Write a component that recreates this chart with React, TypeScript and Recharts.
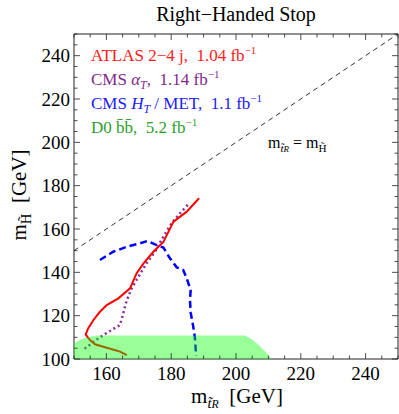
import React from "react";
import { ComposedChart, Line, Area, XAxis, YAxis } from "recharts";

// ATLAS 2-4 jets (red solid), traced top to bottom
const atlasX = [188.6, 184.8, 180.7, 177.6, 174.5, 171.4, 169.3, 167.3, 163.7, 160.1, 158.0, 156.0, 154.4, 153.6, 154.9, 156.5, 160.1, 164.2, 166.3];
const atlasY = [174.2, 168.0, 163.4, 154.0, 149.5, 144.0, 139.5, 132.6, 128.0, 124.9, 121.8, 118.0, 114.2, 111.3, 108.8, 106.8, 105.2, 103.4, 101.8];

// CMS alpha_T (purple dotted)
const alphaX = [185.1, 182.7, 180.1, 177.6, 175.0, 172.4, 169.9, 167.8, 166.3, 165.2, 164.2, 160.1, 156.5, 152.9];
const alphaY = [171.1, 167.2, 162.6, 156.5, 149.5, 144.2, 138.0, 132.6, 127.2, 121.1, 115.7, 112.0, 108.5, 104.3];

// CMS H_T / MET (blue dashed)
const htX = [158.0, 162.1, 166.3, 170.4, 172.7, 175.0, 177.6, 179.6, 181.7, 183.7, 184.8, 186.0, 185.8, 186.0, 186.8, 187.3, 187.7];
const htY = [145.7, 149.5, 151.8, 153.4, 154.5, 152.9, 151.4, 146.5, 142.3, 141.1, 137.2, 131.8, 127.0, 121.5, 115.0, 110.0, 101.5];

// D0 bb excluded region (green fill, drawn over the curves)
const d0X = [150, 151.5, 153, 155, 157, 202.8, 205, 207, 209, 211];
const d0Y = [107, 108.5, 109.6, 110.3, 110.8, 110.8, 109, 106.5, 103.5, 100];

// m_stop = m_higgsino diagonal
const diagX = [150, 250];
const diagY = [150, 250];

const xTicks = [150, 155, 160, 165, 170, 175, 180, 185, 190, 195, 200, 205, 210, 215, 220, 225, 230, 235, 240, 245, 250];
const xLabels = [160, 180, 200, 220, 240];
const yTicks = [100, 105, 110, 115, 120, 125, 130, 135, 140, 145, 150, 155, 160, 165, 170, 175, 180, 185, 190, 195, 200, 205, 210, 215, 220, 225, 230, 235, 240, 245, 250];
const yLabels = [100, 120, 140, 160, 180, 200, 220, 240];

const FONT = "Liberation Serif, serif";
const FRAME = "#222";

const pts = (xs: number[], ys: number[]) => xs.map((x, i) => ({ x, y: ys[i] }));

const isMajor = (v: number) => v % 20 === 0;

function BottomTick({ x, y, payload }: any) {
  const v = payload.value;
  return (
    <g>
      <line x1={x} x2={x} y1={y} y2={y - (isMajor(v) ? 6 : 3.5)} stroke={FRAME} strokeWidth={0.8} />
      {xLabels.includes(v) && (
        <text x={x} y={y + 14} dy="0.35em" textAnchor="middle" fontFamily={FONT} fontSize={19} fill="#000">
          {v}
        </text>
      )}
    </g>
  );
}

function TopTick({ x, y, payload }: any) {
  return <line x1={x} x2={x} y1={y} y2={y + (isMajor(payload.value) ? 6 : 3.5)} stroke={FRAME} strokeWidth={0.8} />;
}

function LeftTick({ x, y, payload }: any) {
  const v = payload.value;
  return (
    <g>
      <line x1={x} x2={x + (isMajor(v) ? 6 : 3.5)} y1={y} y2={y} stroke={FRAME} strokeWidth={0.8} />
      {yLabels.includes(v) && (
        <text x={x - 4} y={y} dy="0.35em" textAnchor="end" fontFamily={FONT} fontSize={19} fill="#000">
          {v}
        </text>
      )}
    </g>
  );
}

function RightTick({ x, y, payload }: any) {
  return <line x1={x} x2={x - (isMajor(payload.value) ? 6 : 3.5)} y1={y} y2={y} stroke={FRAME} strokeWidth={0.8} />;
}

const Sup = ({ children }: any) => (
  <span style={{ fontSize: "0.65em", position: "relative", top: "-0.6em" }}>{children}</span>
);
const Sub = ({ children }: any) => (
  <span style={{ fontSize: "0.7em", position: "relative", top: "0.35em" }}>{children}</span>
);

const label = (left: number, top: number, extra: React.CSSProperties = {}): React.CSSProperties => ({
  position: "absolute",
  left,
  top,
  transform: "translateY(-50%)",
  whiteSpace: "nowrap",
  lineHeight: 1,
  fontFamily: FONT,
  ...extra,
});

export default function App() {
  return (
    <div style={{ position: "absolute", left: 0, top: 0, width: 399, height: 414, background: "#fff" }}>
      <ComposedChart width={399} height={414} margin={{ top: 33, right: 0, bottom: 0, left: 0 }}>
        <XAxis
          type="number"
          dataKey="x"
          domain={[150, 250]}
          allowDataOverflow
          ticks={xTicks}
          interval={0}
          height={55}
          tickSize={0}
          tickMargin={0}
          tickLine={false}
          axisLine={{ stroke: FRAME, strokeWidth: 1 }}
          tick={<BottomTick />}
        />
        <XAxis
          xAxisId="t"
          orientation="top"
          type="number"
          dataKey="x"
          domain={[150, 250]}
          allowDataOverflow
          ticks={xTicks}
          interval={0}
          height={1}
          tickSize={0}
          tickMargin={0}
          tickLine={false}
          axisLine={{ stroke: FRAME, strokeWidth: 1 }}
          tick={<TopTick />}
        />
        <YAxis
          type="number"
          dataKey="y"
          domain={[100, 250]}
          allowDataOverflow
          ticks={yTicks}
          interval={0}
          width={74}
          tickSize={0}
          tickMargin={0}
          tickLine={false}
          axisLine={{ stroke: FRAME, strokeWidth: 1 }}
          tick={<LeftTick />}
        />
        <YAxis
          yAxisId="r"
          orientation="right"
          type="number"
          domain={[100, 250]}
          allowDataOverflow
          ticks={yTicks}
          interval={0}
          width={1}
          tickSize={0}
          tickMargin={0}
          tickLine={false}
          axisLine={{ stroke: FRAME, strokeWidth: 1 }}
          tick={<RightTick />}
        />

        <Line data={pts(diagX, diagY)} dataKey="y" type="linear" stroke="#333" strokeWidth={1} strokeDasharray="5 4" dot={false} isAnimationActive={false} />
        <Line data={pts(htX, htY)} dataKey="y" type="linear" stroke="#0000ff" strokeWidth={2.5} strokeDasharray="7 4" dot={false} isAnimationActive={false} />
        <Line data={pts(alphaX, alphaY)} dataKey="y" type="linear" stroke="#8b2a9b" strokeWidth={2.5} strokeDasharray="2 3" dot={false} isAnimationActive={false} />
        <Line data={pts(atlasX, atlasY)} dataKey="y" type="linear" stroke="#ff0000" strokeWidth={2} dot={false} isAnimationActive={false} />
        <Area
          data={pts(d0X, d0Y)}
          dataKey="y"
          type="linear"
          stroke="none"
          fill="#00ff00"
          fillOpacity={0.4}
          isAnimationActive={false}
          {...({ zIndex: 1000 } as any)}
        />
      </ComposedChart>

      <div style={{ ...label(236, 14, { fontSize: 20 }), transform: "translate(-50%, -50%)" }}>Right−Handed Stop</div>

      <div style={label(91, 55, { fontSize: 17, color: "#ff1a1a" })}>
        ATLAS 2−4 j,{"\u00a0 "}1.04 fb<Sup>−1</Sup>
      </div>
      <div style={label(91, 79, { fontSize: 17, color: "#7f2a8a" })}>
        CMS <i>α</i><Sub><i>T</i></Sub>,{"\u00a0 "}1.14 fb<Sup>−1</Sup>
      </div>
      <div style={label(91, 103, { fontSize: 17, color: "#1a1aff" })}>
        CMS <i>H</i><Sub><i>T</i></Sub> / MET,{"\u00a0 "}1.1 fb<Sup>−1</Sup>
      </div>
      <div style={label(91, 127, { fontSize: 17, color: "#2ca02c" })}>
        D0 b{"\u0304"}b{"\u0304"},{"\u00a0 "}5.2 fb<Sup>−1</Sup>
      </div>

      <div style={label(268, 143, { fontSize: 16, color: "#000" })}>
        m<Sub><i>t{"\u0303"}</i><span style={{ fontSize: "0.8em" }}><i>R</i></span></Sub> = m<Sub>H{"\u0303"}</Sub>
      </div>

      <div style={{ ...label(237, 396, { fontSize: 21 }), transform: "translate(-50%, -50%)" }}>
        m<Sub><i>t{"\u0303"}</i><span style={{ fontSize: "0.8em" }}><i>R</i></span></Sub>{"\u00a0 "}[GeV]
      </div>
      <div
        style={{
          ...label(19, 195, { fontSize: 21 }),
          transform: "translate(-50%, -50%) rotate(-90deg)",
        }}
      >
        m<Sub>H{"\u0303"}</Sub>{"\u00a0 "}[GeV]
      </div>
    </div>
  );
}
